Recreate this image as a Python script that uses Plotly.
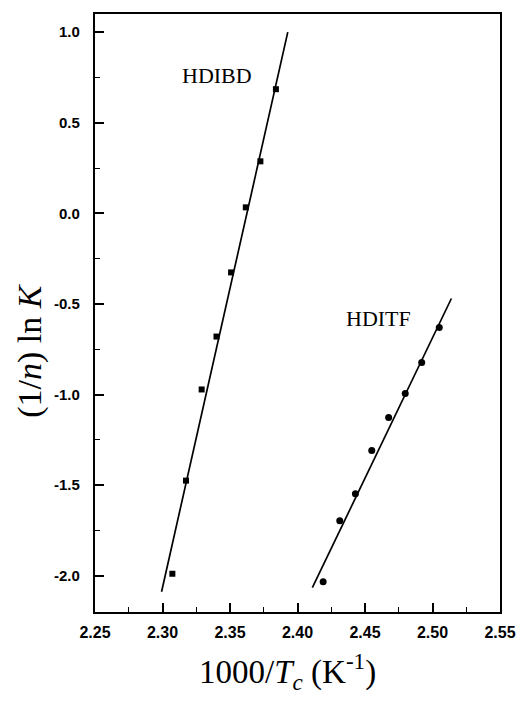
import plotly.graph_objects as go

# HDIBD data (squares)
hdibd_x = [2.3073, 2.3174, 2.329, 2.340, 2.3508, 2.3617, 2.3725, 2.384]
hdibd_y = [-1.989, -1.475, -0.972, -0.680, -0.326, 0.033, 0.287, 0.685]
# HDIBD fit line endpoints
hdibd_fit_x = [2.2993, 2.3928]
hdibd_fit_y = [-2.088, 1.0]

# HDITF data (circles)
hditf_x = [2.419, 2.4313, 2.4429, 2.455, 2.4675, 2.4798, 2.492, 2.505]
hditf_y = [-2.033, -1.696, -1.547, -1.309, -1.127, -0.994, -0.823, -0.630]
# HDITF fit line endpoints
hditf_fit_x = [2.411, 2.514]
hditf_fit_y = [-2.066, -0.470]

x_ticks = [2.25, 2.30, 2.35, 2.40, 2.45, 2.50, 2.55]
x_ticklabels = ["2.25", "2.30", "2.35", "2.40", "2.45", "2.50", "2.55"]
y_ticks = [-2.0, -1.5, -1.0, -0.5, 0.0, 0.5, 1.0]
y_ticklabels = ["-2.0", "-1.5", "-1.0", "-0.5", "0.0", "0.5", "1.0"]

serif = "Liberation Serif, Times New Roman, serif"
sans = "Liberation Sans, Arial, sans-serif"

fig = go.Figure()
fig.add_trace(go.Scatter(x=hdibd_fit_x, y=hdibd_fit_y, mode="lines",
                         line=dict(color="black", width=1.7), showlegend=False))
fig.add_trace(go.Scatter(x=hdibd_x, y=hdibd_y, mode="markers",
                         marker=dict(symbol="square", color="black", size=6), showlegend=False))
fig.add_trace(go.Scatter(x=hditf_fit_x, y=hditf_fit_y, mode="lines",
                         line=dict(color="black", width=1.7), showlegend=False))
fig.add_trace(go.Scatter(x=hditf_x, y=hditf_y, mode="markers",
                         marker=dict(symbol="circle", color="black", size=7), showlegend=False))

fig.add_annotation(x=2.3406, y=0.762, text="HDIBD", showarrow=False,
                   font=dict(family=serif, size=22, color="black"))
fig.add_annotation(x=2.460, y=-0.580, text="HDITF", showarrow=False,
                   font=dict(family=serif, size=22, color="black"))

fig.add_annotation(xref="paper", yref="paper", x=0.475, y=-0.1,
                   text="1000/<i>T</i><sub><i>c</i></sub> (K<sup>-1</sup>)",
                   showarrow=False, font=dict(family=serif, size=33, color="black"),
                   xanchor="center", yanchor="middle")
fig.add_annotation(xref="paper", yref="paper", x=-0.161, y=0.438,
                   text="(1/<i>n</i>) ln <i>K</i>", textangle=-90,
                   showarrow=False, font=dict(family=serif, size=34, color="black"),
                   xanchor="center", yanchor="middle")

fig.update_xaxes(range=[2.25, 2.55], tickvals=x_ticks, ticktext=x_ticklabels,
                 ticks="inside", ticklen=9, tickwidth=1.5, tickcolor="black",
                 minor=dict(dtick=0.025, tick0=2.25, ticks="inside", ticklen=5, tickwidth=1.2, tickcolor="black"),
                 showline=True, linecolor="black", linewidth=2.2, mirror=True,
                 showgrid=False, zeroline=False,
                 tickfont=dict(family=sans, size=16, color="black", weight="bold"),
                 ticklabelstandoff=5)
fig.update_yaxes(range=[-2.2, 1.1], tickvals=y_ticks, ticktext=y_ticklabels,
                 ticks="inside", ticklen=9, tickwidth=1.5, tickcolor="black",
                 minor=dict(dtick=0.25, tick0=0, ticks="inside", ticklen=5, tickwidth=1.2, tickcolor="black"),
                 showline=True, linecolor="black", linewidth=2.2, mirror=True,
                 showgrid=False, zeroline=False,
                 tickfont=dict(family=sans, size=15, color="black", weight="bold"),
                 ticklabelstandoff=10)

fig.update_layout(width=528, height=702, plot_bgcolor="white", paper_bgcolor="white",
                  margin=dict(l=95, r=18, t=14, b=90), showlegend=False)

fig.write_html("out.html")
